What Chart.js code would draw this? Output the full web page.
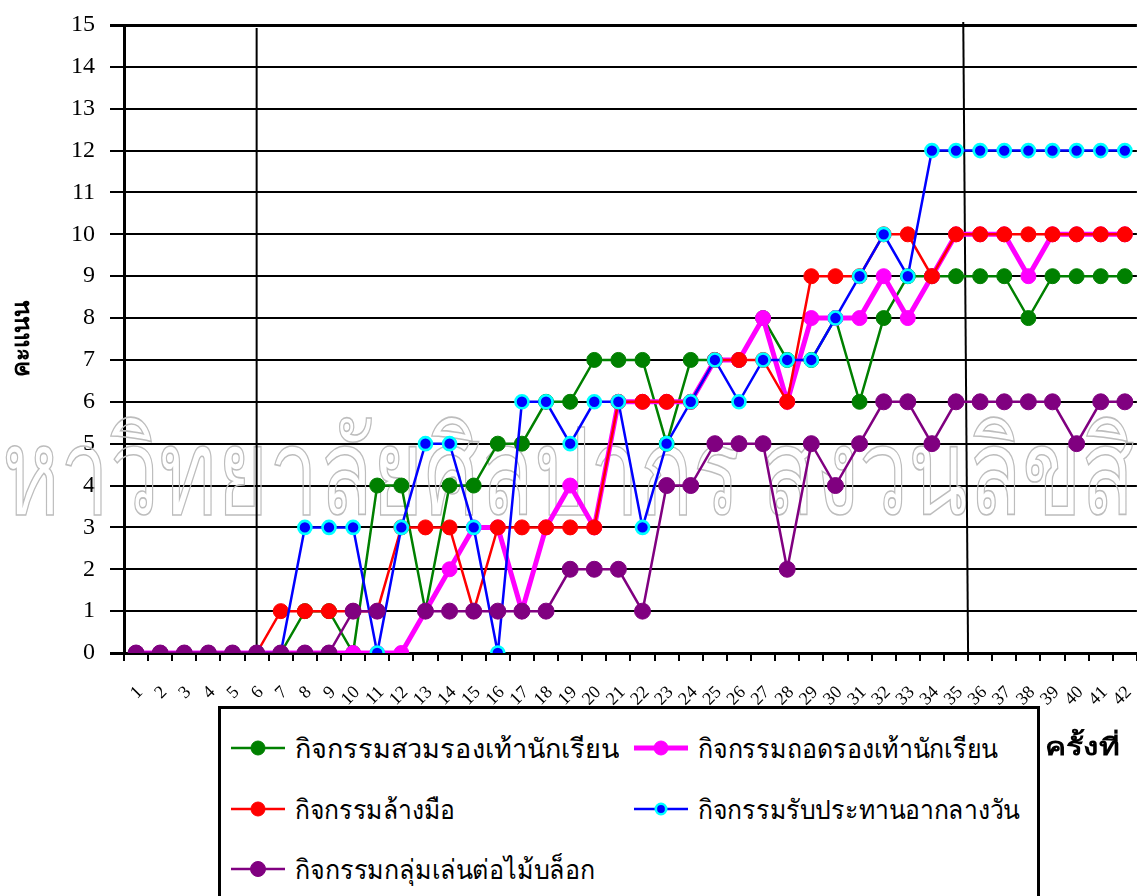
<!DOCTYPE html>
<html>
<head>
<meta charset="utf-8">
<script src="https://cdn.jsdelivr.net/npm/chart.js@4.4.1/dist/chart.umd.min.js"></script>
<style>
  html, body { margin: 0; padding: 0; background: #fff; overflow: hidden; width: 1137px; height: 896px; }
  #chart { position: absolute; left: 0; top: 0; }
  #legend { position: absolute; left: 218px; top: 706px; width: 816px; height: 220px; border: 3px solid #000; background: #fff; }
  .item { position: absolute; height: 40px; display: flex; align-items: center; }
  .item svg { flex: none; }
  .item span { font-family: "Liberation Serif", serif; font-size: 27px; white-space: nowrap; display: inline-block; transform-origin: left center; margin-left: 10px; }
  #xtitle { position: absolute; left: 1045px; top: 727px; font: bold 24px "Liberation Sans", sans-serif; transform-origin: left center; white-space: nowrap; }
</style>
</head>
<body>
<canvas id="chart" width="1146" height="896"></canvas>
<div id="legend"></div>
<div id="xtitle">ครั้งที่</div>
<script>
// ── data ────────────────────────────────────────────────────────────────
const sessions = ["1","2","3","4","5","6","7","8","9","10","11","12","13","14","15","16","17","18","19","20","21",
                  "22","23","24","25","26","27","28","29","30","31","32","33","34","35","36","37","38","39","40","41","42"];
const yTicks = [0,1,2,3,4,5,6,7,8,9,10,11,12,13,14,15];

const putOnShoes   = [0,0,0,0,0,0,0,1,1,0,4,4,1,4,4,5,5,6,6,7,7,7,5,7,7,7,8,7,7,8,6,8,9,9,9,9,9,8,9,9,9,9];
const takeOffShoes = [0,0,0,0,0,0,0,0,0,0,0,0,1,2,3,3,1,3,4,3,6,6,6,6,7,7,8,6,8,8,8,9,8,9,10,10,10,9,10,10,10,10];
const washHands    = [0,0,0,0,0,0,1,1,1,1,1,3,3,3,1,3,3,3,3,3,6,6,6,6,7,7,7,6,9,9,9,10,10,9,10,10,10,10,10,10,10,10];
const lunch        = [0,0,0,0,0,0,0,3,3,3,0,3,5,5,3,0,6,6,5,6,6,3,5,6,7,6,7,7,7,8,9,10,9,12,12,12,12,12,12,12,12,12];
const blockPlay    = [0,0,0,0,0,0,0,0,0,1,1,null,1,1,1,1,1,1,2,2,2,1,4,4,5,5,5,2,5,4,5,6,6,5,6,6,6,6,6,5,6,6];

const seriesNames = ["กิจกรรมสวมรองเท้านักเรียน", "กิจกรรมถอดรองเท้านักเรียน", "กิจกรรมล้างมือ",
                     "กิจกรรมรับประทานอากลางวัน", "กิจกรรมกลุ่มเล่นต่อไม้บล็อก"];
const yTitle = "คะแนน";
const watermark = "มหาวิทยาลัยศิลปากร สงวนลิขสิทธิ์";

// phase divider lines, in (category index, value) coordinates
const dividers = [
  { x0: 5, y0: 14.93, x1: 5, y1: 0 },
  { x0: 34.3, y0: 15.07, x1: 34.5, y1: 0 },
];

// ── styles ──────────────────────────────────────────────────────────────
const styles = [
  { line: "#008000", fill: "#008000", edge: "#008000", lw: 2.5, r: 7.5, bw: 1, order: 5 },
  { line: "#FF00FF", fill: "#FF00FF", edge: "#FF00FF", lw: 5,   r: 7.5, bw: 1, order: 4 },
  { line: "#FF0000", fill: "#FF0000", edge: "#FF0000", lw: 2.5, r: 7.5, bw: 1, order: 3 },
  { line: "#0000FF", fill: "#0000FF", edge: "#00FFFF", lw: 2.5, r: 6.5, bw: 2.6, order: 2 },
  { line: "#800080", fill: "#800080", edge: "#800080", lw: 2.5, r: 8,   bw: 1, order: 1 },
];
const values = [putOnShoes, takeOffShoes, washHands, lunch, blockPlay];

const datasets = values.map((v, i) => ({
  label: seriesNames[i], data: v, order: styles[i].order,
  borderColor: styles[i].line, borderWidth: styles[i].lw, backgroundColor: styles[i].fill,
  pointBackgroundColor: styles[i].fill, pointBorderColor: styles[i].edge,
  pointBorderWidth: styles[i].bw, pointRadius: styles[i].r, tension: 0, spanGaps: false,
}));

const serif = "'Liberation Serif', 'Times New Roman', serif";

const overlay = {
  id: "overlay",
  beforeDatasetsDraw(chart) {
    const { ctx, scales: { x, y } } = chart;
    ctx.save();
    // watermark (outlined text)
    ctx.textAlign = "left";
    ctx.textBaseline = "alphabetic";
    ctx.font = "100px " + serif;
    const m = ctx.measureText("น");
    const size = 100 * 70 / (m.actualBoundingBoxAscent + m.actualBoundingBoxDescent);
    ctx.font = size + "px " + serif;
    const wFirst = ctx.measureText("ม").width;
    const wSpan = ctx.measureText("หาวิทยาลัยศิลปากร").width;
    const sx = 738 / wSpan;
    ctx.translate(2 - wFirst * sx, 514);
    ctx.scale(sx, 1);
    ctx.strokeStyle = "#bdbdbd";
    ctx.lineWidth = 1.6;
    ctx.strokeText(watermark, 0, 0);
    ctx.restore();

    ctx.save();
    ctx.strokeStyle = "#000";
    ctx.lineWidth = 2;
    for (const d of dividers) {
      ctx.beginPath();
      ctx.moveTo(x.getPixelForValue(d.x0), y.getPixelForValue(d.y0));
      ctx.lineTo(x.getPixelForValue(d.x1), y.getPixelForValue(d.y1));
      ctx.stroke();
    }
    ctx.restore();
  }
};

const chart = new Chart(document.getElementById("chart"), {
  type: "line",
  data: { labels: sessions, datasets },
  options: {
    responsive: false, animation: false, devicePixelRatio: 1,
    layout: { padding: { top: 25, left: 0, right: 0, bottom: 0 } },
    plugins: { legend: { display: false }, tooltip: { enabled: false } },
    scales: {
      x: {
        offset: true,
        afterFit(s) { s.height = 243; s.paddingLeft = 0; s.paddingRight = 0; },
        grid: { drawOnChartArea: false, drawTicks: true, tickLength: 8, offset: true, color: "#000", lineWidth: 2 },
        border: { display: true, color: "#000", width: 2 },
        ticks: { autoSkip: false, minRotation: 45, maxRotation: 45, padding: 21, labelOffset: 4, color: "#000",
                 font: { family: serif, size: 18 } },
      },
      y: {
        min: 0, max: 15,
        afterFit(s) { s.width = 124; s.paddingTop = 0; s.paddingBottom = 0; },
        afterBuildTicks(s) { s.ticks = yTicks.map(v => ({ value: v })); },
        grid: { color: "#000", lineWidth: c => (c.tick && (c.tick.value === 15 || c.tick.value === 0)) ? 3 : 2,
                tickLength: 14 },
        border: { display: true, color: "#000", width: 3 },
        ticks: { padding: 15, color: "#000", font: { family: serif, size: 24 } },
        title: { display: true, text: yTitle, color: "#000", padding: { top: 8, bottom: 0 },
                 font: { family: serif, size: 24, weight: "bold" } },
      },
    },
  },
  plugins: [overlay],
});

// ── legend (HTML box) ───────────────────────────────────────────────────
const legendPos = [
  { left: 10, top: 19, w: 324 }, { left: 413, top: 19, w: 300 },
  { left: 10, top: 80, w: 160 }, { left: 413, top: 80, w: 322 },
  { left: 10, top: 140, w: 300 },
];
const legend = document.getElementById("legend");
seriesNames.forEach((name, i) => {
  const s = styles[i];
  const div = document.createElement("div");
  div.className = "item";
  div.style.left = legendPos[i].left + "px";
  div.style.top = legendPos[i].top + "px";
  div.innerHTML =
    `<svg width="54" height="20"><line x1="0" y1="10" x2="54" y2="10" stroke="${s.line}" stroke-width="${s.lw}"/>` +
    `<circle cx="27" cy="10" r="${s.r - s.bw / 2}" fill="${s.fill}" stroke="${s.edge}" stroke-width="${s.bw}"/></svg>` +
    `<span>${name}</span>`;
  legend.appendChild(div);
  const sp = div.querySelector("span");
  sp.style.transform = `scaleX(${legendPos[i].w / sp.getBoundingClientRect().width})`;
});
const xt = document.getElementById("xtitle");
xt.style.transform = `scaleX(${75 / xt.getBoundingClientRect().width})`;
</script>
</body>
</html>
